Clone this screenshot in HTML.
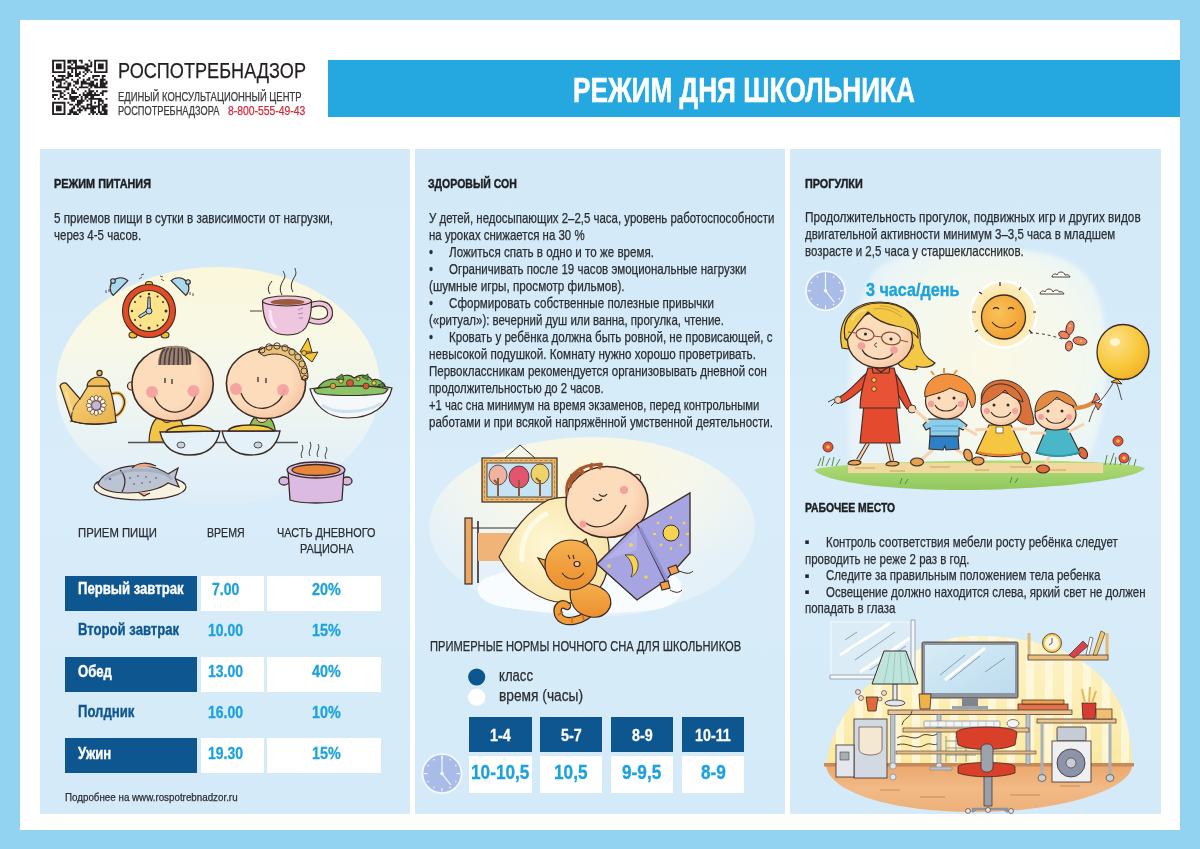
<!DOCTYPE html>
<html lang="ru"><head><meta charset="utf-8"><title>Режим дня школьника</title>
<style>
html,body{margin:0;padding:0}
body{width:1200px;height:849px;overflow:hidden;background:#93d3f2;position:relative;font-family:'Liberation Sans',Arial,sans-serif}
.abs{position:absolute}
.sheet{position:absolute;left:20px;top:20px;width:1160px;height:810px;background:#fff}
.bar{position:absolute;left:328px;top:60px;width:852px;height:57px;background:#25a7e0}
.panel{position:absolute;top:149px;height:665px;background:linear-gradient(180deg,#d3e9f8 0%,#d8ecf9 50%,#d5eaf8 100%)}
.t{position:absolute;white-space:nowrap;line-height:1;transform-origin:0 0;-webkit-text-stroke:0.25px currentColor}
.cell{position:absolute;height:35px}
.dk{background:#0e5690}
.wh{background:#fff}
svg{position:absolute;overflow:visible}
</style></head>
<body>
<div class="sheet"></div>
<div class="bar"></div>
<svg class="abs" style="left:0;top:0" width="1200" height="849" viewBox="0 0 1200 849"><defs></defs><path fill="#231f20" d="M52.10,59.70h13.37v1.91h-13.37zM67.38,59.70h9.55v1.91h-9.55zM78.84,59.70h3.82v1.91h-3.82zM88.40,59.70h1.91v1.91h-1.91zM94.13,59.70h13.37v1.91h-13.37zM52.10,61.61h1.91v1.91h-1.91zM63.56,61.61h1.91v1.91h-1.91zM67.38,61.61h3.82v1.91h-3.82zM73.11,61.61h3.82v1.91h-3.82zM80.76,61.61h1.91v1.91h-1.91zM90.31,61.61h1.91v1.91h-1.91zM94.13,61.61h1.91v1.91h-1.91zM105.59,61.61h1.91v1.91h-1.91zM52.10,63.52h1.91v1.91h-1.91zM55.92,63.52h5.73v1.91h-5.73zM63.56,63.52h1.91v1.91h-1.91zM71.20,63.52h1.91v1.91h-1.91zM75.02,63.52h1.91v1.91h-1.91zM84.58,63.52h3.82v1.91h-3.82zM90.31,63.52h1.91v1.91h-1.91zM94.13,63.52h1.91v1.91h-1.91zM97.95,63.52h5.73v1.91h-5.73zM105.59,63.52h1.91v1.91h-1.91zM52.10,65.43h1.91v1.91h-1.91zM55.92,65.43h5.73v1.91h-5.73zM63.56,65.43h1.91v1.91h-1.91zM67.38,65.43h3.82v1.91h-3.82zM75.02,65.43h9.55v1.91h-9.55zM86.49,65.43h5.73v1.91h-5.73zM94.13,65.43h1.91v1.91h-1.91zM97.95,65.43h5.73v1.91h-5.73zM105.59,65.43h1.91v1.91h-1.91zM52.10,67.34h1.91v1.91h-1.91zM55.92,67.34h5.73v1.91h-5.73zM63.56,67.34h1.91v1.91h-1.91zM67.38,67.34h21.01v1.91h-21.01zM94.13,67.34h1.91v1.91h-1.91zM97.95,67.34h5.73v1.91h-5.73zM105.59,67.34h1.91v1.91h-1.91zM52.10,69.25h1.91v1.91h-1.91zM63.56,69.25h1.91v1.91h-1.91zM71.20,69.25h1.91v1.91h-1.91zM75.02,69.25h1.91v1.91h-1.91zM84.58,69.25h5.73v1.91h-5.73zM94.13,69.25h1.91v1.91h-1.91zM105.59,69.25h1.91v1.91h-1.91zM52.10,71.16h13.37v1.91h-13.37zM67.38,71.16h1.91v1.91h-1.91zM71.20,71.16h1.91v1.91h-1.91zM75.02,71.16h1.91v1.91h-1.91zM78.84,71.16h1.91v1.91h-1.91zM82.67,71.16h1.91v1.91h-1.91zM86.49,71.16h1.91v1.91h-1.91zM90.31,71.16h1.91v1.91h-1.91zM94.13,71.16h13.37v1.91h-13.37zM67.38,73.07h3.82v1.91h-3.82zM75.02,73.07h5.73v1.91h-5.73zM84.58,73.07h1.91v1.91h-1.91zM52.10,74.98h1.91v1.91h-1.91zM57.83,74.98h7.64v1.91h-7.64zM67.38,74.98h5.73v1.91h-5.73zM75.02,74.98h3.82v1.91h-3.82zM82.67,74.98h1.91v1.91h-1.91zM92.22,74.98h7.64v1.91h-7.64zM101.77,74.98h3.82v1.91h-3.82zM54.01,76.89h1.91v1.91h-1.91zM61.65,76.89h1.91v1.91h-1.91zM65.47,76.89h3.82v1.91h-3.82zM78.84,76.89h1.91v1.91h-1.91zM88.40,76.89h1.91v1.91h-1.91zM92.22,76.89h1.91v1.91h-1.91zM101.77,76.89h1.91v1.91h-1.91zM54.01,78.80h11.46v1.91h-11.46zM71.20,78.80h1.91v1.91h-1.91zM76.93,78.80h1.91v1.91h-1.91zM82.67,78.80h1.91v1.91h-1.91zM86.49,78.80h3.82v1.91h-3.82zM94.13,78.80h3.82v1.91h-3.82zM99.86,78.80h5.73v1.91h-5.73zM52.10,80.71h1.91v1.91h-1.91zM55.92,80.71h5.73v1.91h-5.73zM65.47,80.71h1.91v1.91h-1.91zM73.11,80.71h5.73v1.91h-5.73zM80.76,80.71h5.73v1.91h-5.73zM90.31,80.71h3.82v1.91h-3.82zM99.86,80.71h3.82v1.91h-3.82zM105.59,80.71h1.91v1.91h-1.91zM52.10,82.62h1.91v1.91h-1.91zM59.74,82.62h1.91v1.91h-1.91zM63.56,82.62h1.91v1.91h-1.91zM67.38,82.62h3.82v1.91h-3.82zM75.02,82.62h3.82v1.91h-3.82zM80.76,82.62h13.37v1.91h-13.37zM96.04,82.62h1.91v1.91h-1.91zM99.86,82.62h7.64v1.91h-7.64zM52.10,84.53h1.91v1.91h-1.91zM57.83,84.53h3.82v1.91h-3.82zM67.38,84.53h3.82v1.91h-3.82zM73.11,84.53h1.91v1.91h-1.91zM80.76,84.53h1.91v1.91h-1.91zM88.40,84.53h9.55v1.91h-9.55zM99.86,84.53h5.73v1.91h-5.73zM55.92,86.44h13.37v1.91h-13.37zM75.02,86.44h1.91v1.91h-1.91zM78.84,86.44h9.55v1.91h-9.55zM90.31,86.44h1.91v1.91h-1.91zM94.13,86.44h13.37v1.91h-13.37zM52.10,88.36h1.91v1.91h-1.91zM65.47,88.36h3.82v1.91h-3.82zM71.20,88.36h1.91v1.91h-1.91zM76.93,88.36h1.91v1.91h-1.91zM88.40,88.36h1.91v1.91h-1.91zM52.10,90.27h9.55v1.91h-9.55zM63.56,90.27h1.91v1.91h-1.91zM71.20,90.27h3.82v1.91h-3.82zM84.58,90.27h1.91v1.91h-1.91zM88.40,90.27h5.73v1.91h-5.73zM96.04,90.27h1.91v1.91h-1.91zM101.77,90.27h5.73v1.91h-5.73zM59.74,92.18h3.82v1.91h-3.82zM67.38,92.18h1.91v1.91h-1.91zM71.20,92.18h5.73v1.91h-5.73zM82.67,92.18h1.91v1.91h-1.91zM86.49,92.18h5.73v1.91h-5.73zM94.13,92.18h1.91v1.91h-1.91zM99.86,92.18h3.82v1.91h-3.82zM52.10,94.09h5.73v1.91h-5.73zM59.74,94.09h1.91v1.91h-1.91zM63.56,94.09h1.91v1.91h-1.91zM69.29,94.09h1.91v1.91h-1.91zM78.84,94.09h1.91v1.91h-1.91zM82.67,94.09h17.19v1.91h-17.19zM101.77,94.09h1.91v1.91h-1.91zM52.10,96.00h1.91v1.91h-1.91zM59.74,96.00h3.82v1.91h-3.82zM69.29,96.00h9.55v1.91h-9.55zM80.76,96.00h1.91v1.91h-1.91zM84.58,96.00h3.82v1.91h-3.82zM90.31,96.00h3.82v1.91h-3.82zM54.01,97.91h1.91v1.91h-1.91zM57.83,97.91h1.91v1.91h-1.91zM63.56,97.91h3.82v1.91h-3.82zM69.29,97.91h7.64v1.91h-7.64zM80.76,97.91h1.91v1.91h-1.91zM84.58,97.91h1.91v1.91h-1.91zM88.40,97.91h13.37v1.91h-13.37zM105.59,97.91h1.91v1.91h-1.91zM71.20,99.82h3.82v1.91h-3.82zM76.93,99.82h7.64v1.91h-7.64zM86.49,99.82h1.91v1.91h-1.91zM90.31,99.82h1.91v1.91h-1.91zM97.95,99.82h5.73v1.91h-5.73zM52.10,101.73h13.37v1.91h-13.37zM67.38,101.73h1.91v1.91h-1.91zM76.93,101.73h5.73v1.91h-5.73zM90.31,101.73h1.91v1.91h-1.91zM94.13,101.73h1.91v1.91h-1.91zM97.95,101.73h1.91v1.91h-1.91zM101.77,101.73h1.91v1.91h-1.91zM52.10,103.64h1.91v1.91h-1.91zM63.56,103.64h1.91v1.91h-1.91zM69.29,103.64h3.82v1.91h-3.82zM75.02,103.64h5.73v1.91h-5.73zM86.49,103.64h5.73v1.91h-5.73zM97.95,103.64h3.82v1.91h-3.82zM103.68,103.64h3.82v1.91h-3.82zM52.10,105.55h1.91v1.91h-1.91zM55.92,105.55h5.73v1.91h-5.73zM63.56,105.55h1.91v1.91h-1.91zM73.11,105.55h1.91v1.91h-1.91zM76.93,105.55h1.91v1.91h-1.91zM80.76,105.55h3.82v1.91h-3.82zM86.49,105.55h1.91v1.91h-1.91zM90.31,105.55h9.55v1.91h-9.55zM101.77,105.55h5.73v1.91h-5.73zM52.10,107.46h1.91v1.91h-1.91zM55.92,107.46h5.73v1.91h-5.73zM63.56,107.46h1.91v1.91h-1.91zM71.20,107.46h3.82v1.91h-3.82zM78.84,107.46h1.91v1.91h-1.91zM82.67,107.46h13.37v1.91h-13.37zM97.95,107.46h1.91v1.91h-1.91zM101.77,107.46h3.82v1.91h-3.82zM52.10,109.37h1.91v1.91h-1.91zM55.92,109.37h5.73v1.91h-5.73zM63.56,109.37h1.91v1.91h-1.91zM69.29,109.37h3.82v1.91h-3.82zM76.93,109.37h5.73v1.91h-5.73zM84.58,109.37h1.91v1.91h-1.91zM90.31,109.37h3.82v1.91h-3.82zM97.95,109.37h1.91v1.91h-1.91zM101.77,109.37h5.73v1.91h-5.73zM52.10,111.28h1.91v1.91h-1.91zM63.56,111.28h1.91v1.91h-1.91zM69.29,111.28h7.64v1.91h-7.64zM78.84,111.28h1.91v1.91h-1.91zM90.31,111.28h5.73v1.91h-5.73zM97.95,111.28h3.82v1.91h-3.82zM103.68,111.28h3.82v1.91h-3.82zM52.10,113.19h13.37v1.91h-13.37zM67.38,113.19h3.82v1.91h-3.82zM73.11,113.19h5.73v1.91h-5.73zM88.40,113.19h1.91v1.91h-1.91zM92.22,113.19h1.91v1.91h-1.91zM96.04,113.19h1.91v1.91h-1.91zM99.86,113.19h7.64v1.91h-7.64z"/></svg>
<div class="panel" style="left:40px;width:370px"></div>
<div class="panel" style="left:415px;width:370px"></div>
<div class="panel" style="left:790px;width:371px"></div>
<svg class="abs" style="left:0;top:0" width="1200" height="849" viewBox="0 0 1200 849"><defs>
<linearGradient id="el1" x1="0" y1="267" x2="0" y2="505" gradientUnits="userSpaceOnUse">
 <stop offset="0" stop-color="#fbf7da"/><stop offset="0.3" stop-color="#f8f8e6"/><stop offset="0.6" stop-color="#eef5f2"/><stop offset="0.85" stop-color="#e3f0f8"/><stop offset="1" stop-color="#dcedf9"/>
</linearGradient>
<radialGradient id="skin" cx="0.4" cy="0.4" r="0.7"><stop offset="0.6" stop-color="#fcdcbb"/><stop offset="1" stop-color="#f5c09e"/></radialGradient>
<linearGradient id="gold" x1="0" y1="0" x2="1" y2="1"><stop offset="0" stop-color="#f9d882"/><stop offset="1" stop-color="#e9b14a"/></linearGradient>
</defs>
<ellipse cx="218" cy="386" rx="162" ry="119" fill="url(#el1)"/>
<!-- clock -->
<g stroke="#3b2a24" stroke-width="1.1">
 <path d="M112,294 a10,10 0 0 1 17,-12 z" fill="#a9d9ef" transform="rotate(-10 121 288)"/>
 <path d="M170,282 a10,10 0 0 1 17,12 z" fill="#a9d9ef" transform="rotate(10 178 288)"/>
 <circle cx="113" cy="281" r="2.3" fill="#a9d9ef"/><circle cx="188" cy="282" r="2.3" fill="#a9d9ef"/>
 <ellipse cx="133" cy="335" rx="4" ry="3" fill="#f2c02e"/><ellipse cx="165" cy="335" rx="4" ry="3" fill="#f2c02e"/>
 <ellipse cx="149" cy="284" rx="3.5" ry="2.5" fill="#f2c02e"/>
 <circle cx="149" cy="311" r="26.5" fill="#e34a26"/>
 <circle cx="149" cy="311" r="20.5" fill="#fbe48c"/>
</g>
<g fill="#3b2a24">
 <circle cx="149" cy="294" r="1.2"/><circle cx="149" cy="328" r="1.5"/><circle cx="132" cy="311" r="1.2"/><circle cx="166" cy="311" r="1.5"/>
 <circle cx="140.5" cy="296.5" r="1"/><circle cx="157.5" cy="296.5" r="1"/><circle cx="135" cy="302" r="1"/><circle cx="163" cy="302" r="1"/>
 <circle cx="135" cy="320" r="1"/><circle cx="163" cy="320" r="1"/><circle cx="140.5" cy="325.5" r="1"/><circle cx="157.5" cy="325.5" r="1"/>
</g>
<g stroke="#3b2a24" stroke-width="1" fill="#a9d9ef">
 <path d="M148,297 l2,0 l0.5,13 l-3,0 z"/>
 <path d="M148,310 l2,2 l-10,6 l-1.5,-2 z"/>
 <circle cx="149" cy="311" r="3"/>
</g>
<path d="M139,279 l3,-2 M141,275 l3,-1 M160,276 l3,1 M161,279 l3,2 M106,290 l0,3 M109,289 l0,3 M190,292 l0,3 M193,293 l0,3" stroke="#3b2a24" stroke-width="0.8"/>
<!-- cup -->
<g stroke="#3b2a24" stroke-width="1.2">
 <path d="M309,306 c8,-4 20,-4 21,6 c1,9 -10,12 -20,8" fill="none" stroke="#3b2a24" stroke-width="6"/>
 <path d="M309,306 c8,-4 20,-4 21,6 c1,9 -10,12 -20,8" fill="none" stroke="#eec3de" stroke-width="3.8"/>
 <path d="M262.5,301 l49,0 c0,10 -1,20 -6,27 c-4,5 -10,7 -18,7 c-8,0 -14,-2 -18,-7 c-5,-7 -7,-17 -7,-27 z" fill="#efc6e0"/>
 <ellipse cx="287" cy="301" rx="24.5" ry="5" fill="#efc6e0"/>
 <ellipse cx="287.5" cy="302" rx="17" ry="3" fill="#9a5c3e" stroke="none"/>
</g>
<path d="M270,310 c0,8 2,14 6,18" stroke="#fbe8f4" stroke-width="3" fill="none"/>
<path d="M298,310 l5,-2 M298,314 l5,-1 M299,318 l4,0" stroke="#b384b0" stroke-width="1"/>
<path d="M270,294 c-4,-6 0,-10 2,-13 M282,295 c-4,-7 0,-12 2,-16 c2,-3 0,-6 -1,-8 M293,292 c-4,-7 0,-12 2,-16 c2,-3 0,-6 0,-8" stroke="#3b2a24" stroke-width="1" fill="none"/>
<path d="M250,311 l12,0" stroke="#3b2a24" stroke-width="0.9"/>
<!-- teapot -->
<g stroke="#3b2a24" stroke-width="1.2">
 <path d="M112,394 c10,-4 15,6 11,14 c-2,5 -5,7 -8,8" fill="none" stroke="#eab550" stroke-width="3.5"/>
 <path d="M112,394 c10,-4 15,6 11,14 c-2,5 -5,7 -8,8" fill="none"/>
 <path d="M60,386 c1,-3 5,-4 7,-2 l13,15 l8,-13 l21,0 c3,8 6,24 7,36 c-14,3 -34,3 -44,-1 c-4,-10 -8,-24 -12,-35 z" fill="url(#gold)"/>
 <path d="M87,386 c2,-12 22,-12 23,0 z" fill="#efbd55"/>
 <circle cx="99.5" cy="373" r="2.6" fill="#efbd55"/>
 <path d="M72,421 c-2,-10 4,-18 8,-22" fill="none" stroke-width="1"/>
 <path d="M70,421 c16,4 34,4 47,1" fill="none"/>
</g>
<path d="M66,392 l6,20" stroke="#fbe6b0" stroke-width="2" opacity="0.8"/>
<g fill="#fff3e0" stroke="#3b2a24" stroke-width="0.6"><ellipse cx="103.70" cy="405.40" rx="2" ry="2.6" transform="rotate(90 103.70 405.40)"/><ellipse cx="102.70" cy="409.15" rx="2" ry="2.6" transform="rotate(120 102.70 409.15)"/><ellipse cx="99.95" cy="411.90" rx="2" ry="2.6" transform="rotate(150 99.95 411.90)"/><ellipse cx="96.20" cy="412.90" rx="2" ry="2.6" transform="rotate(180 96.20 412.90)"/><ellipse cx="92.45" cy="411.90" rx="2" ry="2.6" transform="rotate(210 92.45 411.90)"/><ellipse cx="89.70" cy="409.15" rx="2" ry="2.6" transform="rotate(240 89.70 409.15)"/><ellipse cx="88.70" cy="405.40" rx="2" ry="2.6" transform="rotate(270 88.70 405.40)"/><ellipse cx="89.70" cy="401.65" rx="2" ry="2.6" transform="rotate(300 89.70 401.65)"/><ellipse cx="92.45" cy="398.90" rx="2" ry="2.6" transform="rotate(330 92.45 398.90)"/><ellipse cx="96.20" cy="397.90" rx="2" ry="2.6" transform="rotate(360 96.20 397.90)"/><ellipse cx="99.95" cy="398.90" rx="2" ry="2.6" transform="rotate(390 99.95 398.90)"/><ellipse cx="102.70" cy="401.65" rx="2" ry="2.6" transform="rotate(420 102.70 401.65)"/></g>
<circle cx="96.2" cy="405.4" r="4.6" fill="#c4b4dc" stroke="#3b2a24" stroke-width="0.7"/>
<!-- bodies -->
<path d="M149,442 c0,-10 3,-20 8,-24 l22,0 c4,4 6,12 6,24 z" fill="#f1c44a" stroke="#3b2a24" stroke-width="1.2"/>
<path d="M161,418 c2,6 10,6 12,0" fill="none" stroke="#3b2a24" stroke-width="1"/>
<path d="M248,440 c0,-10 2,-18 6,-22 l16,0 c4,4 6,12 6,22 z" fill="#8fbf58" stroke="#3b2a24" stroke-width="1.2"/>
<path d="M256,418 c2,6 10,6 12,0" fill="#f8d6b4" stroke="#3b2a24" stroke-width="1"/>
<path d="M128,442.5 l170,0" stroke="#55504c" stroke-width="1.3"/>
<!-- heads -->
<ellipse cx="131.5" cy="386" rx="4" ry="4" fill="#fcdcbb" stroke="#3b2a24" stroke-width="1.2"/>
<ellipse cx="172.6" cy="384" rx="40.7" ry="37" fill="url(#skin)" stroke="#3b2a24" stroke-width="1.6"/>
<ellipse cx="266" cy="383.5" rx="39.6" ry="35" fill="url(#skin)" stroke="#3b2a24" stroke-width="1.6"/>
<!-- boy hair -->
<path d="M158,365 c0,-8 2,-14 6,-17 c6,-3 18,-3 24,0 c3,3 4,9 3,17 z" fill="#9a8478"/>
<path d="M160,365 c0,-8 2,-14 5,-16 M164.5,365 c0,-8 1,-14 4,-17 M169,365 c0,-8 1,-14 3,-17 M173.5,365 l1,-17 M178,365 l0.5,-17 M182.5,365 c0,-7 0,-13 -1,-17 M187,365 c0,-7 0,-13 -2,-16 M190,364 c0,-6 -1,-12 -3,-15" stroke="#4f3d35" stroke-width="1.6" fill="none"/>
<!-- girl hair -->
<path d="M258,352 c6,-6 14,-8 22,-6 c10,0 18,6 22,12 c4,6 6,12 6,20 l-6,2 c-2,-8 -4,-14 -8,-18 c-8,-8 -20,-10 -30,-6 z" fill="#e9c27a" stroke="#3b2a24" stroke-width="1"/>
<g fill="none" stroke="#3b2a24" stroke-width="0.9">
 <circle cx="262" cy="350" r="3"/><circle cx="269" cy="347" r="3.2"/><circle cx="277" cy="346" r="3.2"/><circle cx="285" cy="348" r="3.2"/>
 <circle cx="292" cy="352" r="3.2"/><circle cx="298" cy="357" r="3.2"/><circle cx="302" cy="364" r="3.2"/><circle cx="304" cy="371" r="3"/><circle cx="305" cy="378" r="2.6"/>
</g>
<path d="M300,352 l8,-14 l4,14 z M302,354 l16,-2 l-6,10 z" fill="#f6c534" stroke="#3b2a24" stroke-width="1"/>
<circle cx="304" cy="353" r="2.5" fill="#f6c534" stroke="#3b2a24" stroke-width="0.8"/>
<!-- faces -->
<g stroke="#3b2a24" stroke-width="1.3" fill="none">
 <path d="M165,378 l0,5 M172,379 l0,5"/>
 <path d="M154,396 c8,22 36,22 42,-3"/>
 <path d="M258,377 l0,5 M266,378 l0,5"/>
 <path d="M241,393 c8,22 38,20 44,-4"/>
</g>
<g fill="#f4a09e" opacity="0.9"><circle cx="152" cy="392" r="6"/><circle cx="193.5" cy="391" r="6"/><circle cx="236" cy="389" r="6"/><circle cx="283" cy="390" r="6"/></g>
<!-- salad bowl -->
<g stroke="#3b2a24" stroke-width="1.2">
 <path d="M318,388 c4,-8 14,-10 20,-8 c4,-6 12,-6 16,-2 c6,-4 14,-4 18,2 c6,-2 12,2 14,8 z" fill="#7dbb5a"/>
 <path d="M310,389 c12,-3 70,-4 82,-1 c-4,18 -20,30 -44,30 c-22,0 -34,-14 -38,-29 z" fill="#f4f8fb"/>
 <path d="M314,389 c20,-4 60,-4 74,0 c-2,4 -6,5 -8,5 c-18,2 -44,2 -60,0 c-3,0 -6,-2 -6,-5 z" fill="#8cc46a"/>
</g>
<path d="M322,405 c10,8 40,10 60,-2" stroke="#cfe2ee" stroke-width="3" fill="none"/>
<g stroke="#3b2a24" stroke-width="0.7">
 <circle cx="350" cy="383" r="3.5" fill="#d9553a"/><circle cx="366" cy="386" r="3" fill="#d9553a"/><circle cx="333" cy="386" r="2.8" fill="#e0a040"/>
 <circle cx="341" cy="381" r="2.2" fill="#f0d04a"/><circle cx="374" cy="383" r="2.2" fill="#f0d04a"/><circle cx="358" cy="379" r="2" fill="#f0d04a"/>
 <path d="M336,378 l6,-4 l2,6 z M362,377 l6,-3 l0,6 z M378,385 l6,-2 l-2,5 z" fill="#4f9a40"/>
</g>
<!-- porridge bowls -->
<g stroke="#3b2a24" stroke-width="1.3">
 <path d="M160,432 l60,-1 c-3,14 -12,24 -30,24 c-18,0 -27,-10 -30,-23 z" fill="#e4f1f8"/>
 <path d="M166,432 c4,-8 40,-9 48,-1 z" fill="#f3cd4a"/>
 <path d="M222,431 l58,0 c-3,14 -12,24 -29,24 c-17,0 -26,-10 -29,-24 z" fill="#e4f1f8"/>
 <path d="M228,431 c4,-8 40,-8 46,0 z" fill="#f3cd4a"/>
</g>
<ellipse cx="181" cy="445" rx="4" ry="3" fill="#c8d4de" stroke="#3b2a24" stroke-width="0.8"/>
<ellipse cx="258" cy="445" rx="4" ry="3" fill="#c8d4de" stroke="#3b2a24" stroke-width="0.8"/>
<!-- fish plate -->
<g stroke="#3b2a24" stroke-width="1.2">
 <ellipse cx="140" cy="487" rx="46" ry="13" fill="#f8f2e2"/>
 <path d="M98,484 c4,-12 26,-20 48,-18 c10,1 16,4 22,8 l10,-6 l-3,10 l4,9 l-11,-4 c-8,6 -24,10 -40,10 c-14,0 -26,-3 -30,-9 z" fill="#bcc3d3"/>
 <path d="M120,470 c6,6 6,14 2,22" fill="none"/>
 <path d="M132,468 c6,-6 16,-6 24,-2" fill="#f0a884"/>
 <path d="M138,492 l6,4 l6,-3" fill="#f0a884"/>
</g>
<path d="M104,480 c10,-8 30,-12 50,-9 c8,1 14,4 18,8" stroke="#9aa3b8" stroke-width="3" fill="none" opacity="0.6"/>
<g fill="#6d7488"><circle cx="130" cy="478" r="0.9"/><circle cx="138" cy="476" r="0.9"/><circle cx="146" cy="477" r="0.9"/><circle cx="134" cy="484" r="0.9"/><circle cx="142" cy="483" r="0.9"/><circle cx="150" cy="482" r="0.9"/><circle cx="156" cy="478" r="0.9"/><circle cx="110" cy="479" r="1.3"/></g>
<!-- pot -->
<g stroke="#3b2a24" stroke-width="1.3">
 <ellipse cx="284" cy="481" rx="5" ry="4" fill="#d9b6df"/>
 <ellipse cx="347" cy="481" rx="5" ry="4" fill="#d9b6df"/>
 <path d="M288,470 l56,0 l-2,30 c-10,4 -42,4 -52,0 z" fill="#dcbbe2"/>
 <ellipse cx="316" cy="470" rx="29" ry="8" fill="#d9b6df"/>
 <ellipse cx="316" cy="470" rx="24" ry="5.5" fill="#e7853a"/>
</g>
<path d="M302,458 c-3,-5 3,-8 0,-13 M310,456 c-3,-5 3,-8 0,-14 M318,457 c-3,-5 3,-8 0,-13 M326,459 c-3,-5 3,-8 0,-12" stroke="#3b2a24" stroke-width="0.9" fill="none"/>
</svg>
<svg class="abs" style="left:0;top:0" width="1200" height="849" viewBox="0 0 1200 849"><defs>
<radialGradient id="el2" cx="592" cy="470" r="200" gradientUnits="userSpaceOnUse" gradientTransform="translate(592 470) scale(1 0.6) translate(-592 -470)">
 <stop offset="0" stop-color="#fbf6dc"/><stop offset="0.5" stop-color="#f6f7ec"/><stop offset="1" stop-color="#e4f1f9"/>
</radialGradient>
<radialGradient id="pil" cx="0.45" cy="0.45" r="0.6"><stop offset="0" stop-color="#fff7d6"/><stop offset="1" stop-color="#f8e4a6"/></radialGradient>
<linearGradient id="cat" x1="0" y1="0" x2="0" y2="1"><stop offset="0" stop-color="#f6b04e"/><stop offset="1" stop-color="#eb8f2e"/></linearGradient>
</defs>
<ellipse cx="592" cy="527" rx="163" ry="90" fill="url(#el2)"/>
<!-- frame -->
<path d="M505,458 l15,-13 l15,13" fill="none" stroke="#3b2a24" stroke-width="1"/>
<rect x="482" y="458" width="75" height="44" fill="#eab96a" stroke="#3b2a24" stroke-width="1.2"/>
<rect x="487" y="463" width="65" height="34" fill="#c4e3f5" stroke="#3b2a24" stroke-width="0.8"/>
<path d="M484.5,460.5 l70,0 l0,39 l-70,0 z" fill="none" stroke="#a36a2e" stroke-width="0.7" stroke-dasharray="3 2"/>
<g stroke="#3b2a24" stroke-width="0.8">
 <ellipse cx="498" cy="475" rx="9" ry="10" fill="#f0b3a0"/>
 <ellipse cx="519" cy="477" rx="10" ry="11" fill="#e4546e"/>
 <ellipse cx="540" cy="474" rx="9" ry="10" fill="#eed26a"/>
</g>
<path d="M498,496 l0,-18 M494,480 l4,4 M519,496 l0,-16 M540,496 l0,-16 M536,478 l4,4" stroke="#8a5a3a" stroke-width="2"/>
<!-- bed -->
<g stroke="#3b2a24" stroke-width="1.2">
 <rect x="465" y="518" width="7" height="66" fill="#eaa862"/>
 <path d="M478,521 l0,62" stroke-width="1.6"/>
 <path d="M472,528 l60,0"/>
 <path d="M478,533 l40,0 l0,28 l-40,0 z" fill="#f0b478" stroke="none"/>
</g>
<!-- blanket -->
<path d="M482,580 c30,-16 130,-26 190,-6 c20,12 10,32 -20,36 c-50,6 -130,4 -160,-6 c-15,-6 -18,-14 -10,-24 z" fill="#f9fcfe" stroke="none"/>
<!-- pillow / big body -->
<path d="M499,557 C510,535 525,512 548,500 C585,488 612,520 609,560 C606,590 590,604 565,603 C540,602 515,585 499,557 Z" fill="url(#pil)" stroke="#3b2a24" stroke-width="1.2"/>
<path d="M522,560 c-2,-20 8,-38 24,-46" stroke="#fffbea" stroke-width="5" fill="none" stroke-linecap="round" opacity="0.9"/>

<!-- boy head -->
<circle cx="637" cy="478" r="3.8" fill="#fcdcbb" stroke="#3b2a24" stroke-width="1"/>
<ellipse cx="607" cy="502" rx="41" ry="35.5" fill="url(#skin)" stroke="#3b2a24" stroke-width="1.5"/>
<path d="M567,495 c-2,-12 4,-20 10,-24 c8,-6 16,-6 24,-7 M570,488 c0,-8 6,-14 12,-16 M575,480 l-4,-6 M583,474 l-2,-7 M591,470 l1,-7 M599,469 l3,-6" stroke="#a9582e" stroke-width="3" fill="none"/>
<g stroke="#3b2a24" stroke-width="1.3" fill="none">
 <path d="M593,498 c2,3 6,4 9,1 M599,494 c2,3 6,3 8,0"/>
 <path d="M586,523 c10,8 30,4 40,-18"/>
</g>
<g fill="#f4a09e"><circle cx="624" cy="490" r="4"/><circle cx="583" cy="524" r="3.5"/></g>
<!-- cat -->
<g transform="translate(6,0)"><g stroke="#3b2a24" stroke-width="1.2">
 <path d="M588,608 C578,622 556,626 552,614 C550,606 556,602 561,606" fill="none" stroke="#3b2a24" stroke-width="8.5" stroke-linecap="round"/>
 <path d="M588,608 C578,622 556,626 552,614 C550,606 556,602 561,606" fill="none" stroke="#f09a38" stroke-width="6" stroke-linecap="round"/>
 <path d="M576,614 l2,6 M566,617 l0,6 M557,612 l-5,3" stroke="#c86a1e" stroke-width="1.5"/>
 <path d="M565,585 c10,-4 30,-2 38,10 c6,12 -4,24 -18,22 c-14,-2 -24,-12 -20,-32 z" fill="url(#cat)"/>
 <path d="M546,562 l-14,-4 l10,16 z" fill="#f2a24a"/>
 <path d="M570,548 l10,-9 l4,12 z" fill="#f2a24a"/>
 <ellipse cx="565" cy="565" rx="26" ry="25" fill="url(#cat)"/>
 <ellipse cx="571" cy="564" rx="3" ry="2.5" fill="#f5cc9a"/>
</g>
<g stroke="#3b2a24" stroke-width="1.1" fill="none">
 <path d="M562,555 l2,4 M567,555 l1,4 M556,573 c6,8 16,8 22,0"/>
</g>
</g>
<!-- book -->
<path d="M596.5,564 l40,-39 l1,75 z" fill="#fdfdfd" stroke="#3b2a24" stroke-width="1"/>
<path d="M597,564 l40,-40 l53,-31 l0,60 l-25,28 l-28,19 z" fill="#a7a5e1" stroke="#3b2a24" stroke-width="1.3"/>
<path d="M637,524 l28,57" stroke="#3b2a24" stroke-width="1.2"/>
<path d="M640,528 l28,54" stroke="#8f8dd2" stroke-width="3"/>
<path d="M605,560 l32,-30 l0,20 z" fill="#b8b6ea" opacity="0.7"/>
<circle cx="671" cy="533" r="8" fill="#f6d452" stroke="#3b2a24" stroke-width="1"/>
<g stroke="#f6d452" stroke-width="1.8"><path d="M671,519 l0,-3 M683,524 l2,-2 M686,534 l3,0 M659,524 l-2,-2 M656,534 l-3,0 M671,547 l0,3 M662,544 l-2,2 M680,544 l2,2"/></g>
<path d="M625,555 c6,4 10,14 6,22 c8,-4 10,-16 2,-22 z" fill="#f6d452" stroke="#3b2a24" stroke-width="0.8"/>
<g fill="#f6d452"><circle cx="631" cy="545" r="2"/><circle cx="609" cy="566" r="1.8"/><circle cx="646" cy="577" r="1.8"/></g>
<!-- feet -->
<g stroke="#3b2a24" stroke-width="1.1" fill="#f2a04a">
 <path d="M668,568 l8,-3 l3,7 l-8,3 z"/>
 <path d="M660,583 l8,-2 l2,7 l-8,2 z"/>
</g>
<path d="M679,571 c6,2 10,4 14,0 M670,590 c4,2 8,4 12,0" stroke="#3b2a24" stroke-width="1" fill="none"/>
</svg>
<svg class="abs" style="left:0;top:0" width="1200" height="849" viewBox="0 0 1200 849"><defs>
<filter id="soft3" x="-10%" y="-10%" width="120%" height="120%"><feGaussianBlur stdDeviation="2"/></filter>
<radialGradient id="glow3" cx="990" cy="360" r="140" gradientUnits="userSpaceOnUse">
 <stop offset="0" stop-color="#fbf8e4"/><stop offset="0.7" stop-color="#f3f8f0"/><stop offset="1" stop-color="#e8f3f8"/>
</radialGradient>
<radialGradient id="sun" cx="0.4" cy="0.4" r="0.7"><stop offset="0" stop-color="#f9c35a"/><stop offset="1" stop-color="#f09a2a"/></radialGradient>
<radialGradient id="sunglow" cx="0.5" cy="0.5" r="0.5"><stop offset="0.6" stop-color="#fbe6a4"/><stop offset="1" stop-color="#fcf0c8"/></radialGradient>
<radialGradient id="bal" cx="0.35" cy="0.3" r="0.8"><stop offset="0" stop-color="#fde08a"/><stop offset="0.6" stop-color="#f8c83a"/><stop offset="1" stop-color="#efae26"/></radialGradient>
<linearGradient id="grass" x1="0" y1="460" x2="0" y2="490" gradientUnits="userSpaceOnUse"><stop offset="0" stop-color="#b4dc7a"/><stop offset="1" stop-color="#90c85e"/></linearGradient>
</defs>
<path d="M850,472 C846,400 846,300 880,266 C905,250 940,248 975,250 C1090,244 1106,280 1106,360 C1108,420 1090,472 1070,472 Z" fill="url(#glow3)" filter="url(#soft3)"/>
<circle cx="825.5" cy="290.8" r="19.5" fill="#a9bbe7" stroke="#f4f8ff" stroke-width="1.8"/><g stroke="#f4f8ff" stroke-width="1.1" fill="none"><path d="M825.50,272.80 L825.50,276.30"/><path d="M843.50,290.80 L840.00,290.80"/><path d="M825.50,308.80 L825.50,305.30"/><path d="M807.50,290.80 L811.00,290.80"/></g><g fill="#f4f8ff"><circle cx="833.50" cy="276.94" r="0.8"/><circle cx="839.36" cy="282.80" r="0.8"/><circle cx="839.36" cy="298.80" r="0.8"/><circle cx="833.50" cy="304.66" r="0.8"/><circle cx="817.50" cy="304.66" r="0.8"/><circle cx="811.64" cy="298.80" r="0.8"/><circle cx="811.64" cy="282.80" r="0.8"/><circle cx="817.50" cy="276.94" r="0.8"/></g><path d="M825.5,290.8 L834.1,301.8 M825.5,290.8 L825.5,273.8" stroke="#f4f8ff" stroke-width="1.2" stroke-linecap="round"/><circle cx="825.5" cy="290.8" r="1.8" fill="#f4f8ff"/>
<!-- sun -->
<circle cx="1003.5" cy="314.5" r="33" fill="url(#sunglow)" stroke="#ffffff" stroke-width="2.5"/>
<circle cx="1003.5" cy="317" r="22" fill="url(#sun)" stroke="#3b2a24" stroke-width="1.3"/>
<path d="M992,322 c6,8 18,8 24,0 M993,309 c2,-2 4,-2 6,0 M1008,309 c2,-2 4,-2 6,0" stroke="#3b2a24" stroke-width="1.2" fill="none"/>
<path d="M1000,286 l0,-4 M1019,290 l2,-3 M982,294 l-3,-2 M976,312 l-4,0 M978,330 l-3,2 M1029,330 l3,3 M1033,312 l3,0" stroke="#3b2a24" stroke-width="1.2"/>
<!-- clouds -->
<path d="M1052,277 c0,-3 4,-4 5,-2 c1,-4 7,-4 8,0 c3,-1 5,1 5,2 z M1040,294 c0,-3 4,-4 5,-2 c1,-4 7,-4 8,0 c2,-3 6,-2 6,0 c3,-1 5,1 5,2 z" fill="#ffffff" stroke="#3b2a24" stroke-width="0.9"/>
<!-- butterfly -->
<path d="M1030,333 c10,0 20,2 32,6" stroke="#3b2a24" stroke-width="0.9" stroke-dasharray="3 3" fill="none"/>
<g stroke="#3b2a24" stroke-width="0.9" fill="#ee7f5f">
 <ellipse cx="1070" cy="328" rx="3.8" ry="7" transform="rotate(15 1070 328)"/>
 <ellipse cx="1080" cy="341" rx="7" ry="4" transform="rotate(10 1080 341)"/>
 <ellipse cx="1064" cy="335" rx="5.5" ry="3.5" transform="rotate(20 1064 335)"/>
 <ellipse cx="1069" cy="346" rx="3.5" ry="5" transform="rotate(10 1069 346)"/>
</g>
<g fill="#f6c84a"><circle cx="1070" cy="326" r="1.3"/><circle cx="1081" cy="341" r="1.3"/><circle cx="1069" cy="347" r="1.1"/></g>
<!-- balloon -->
<path d="M1115,380 c-6,10 -10,16 -16,22 c-6,6 -8,14 -10,20 M1116,382 c4,8 4,14 6,18" stroke="#3b2a24" stroke-width="0.9" fill="none"/>
<ellipse cx="1123" cy="352" rx="26" ry="27.5" fill="url(#bal)" stroke="#3b2a24" stroke-width="1.3"/>
<ellipse cx="1115" cy="342" rx="5" ry="4" fill="#fff6d0"/>
<path d="M1111,382 l6,-3 l5,5 z" fill="#f2b830" stroke="#3b2a24" stroke-width="1"/>
<!-- grass -->
<path d="M814,470 c20,-10 300,-14 331,-2 c-10,14 -120,22 -180,22 c-80,0 -140,-8 -151,-20 z" fill="url(#grass)"/>
<path d="M848,463 l255,0 l0,10 l-255,0 z" fill="#f1d89e"/>
<path d="M855,468 l20,0 M890,471 l15,0 M930,467 l20,0 M975,470 l14,0 M1010,467 l22,0 M1050,470 l16,0" stroke="#c8a060" stroke-width="1"/>
<g stroke="#5b8a3a" stroke-width="1" fill="none">
<path d="M818,466 l3,-8 M822,466 l2,-10 M826,466 l4,-8 M832,466 l2,-9 M836,466 l4,-7 M1105,465 l2,-10 M1110,465 l4,-12 M1115,465 l1,-8 M1120,465 l4,-10 M1128,465 l3,-8 M1134,466 l2,-7 M900,484 l2,-6 M905,484 l3,-5 M1010,483 l2,-6 M1015,483 l3,-5"/>
</g>
<g stroke="#3b2a24" stroke-width="0.8" fill="#e8543a">
 <circle cx="828" cy="447" r="5"/><circle cx="1118" cy="441" r="5"/><circle cx="1124" cy="458" r="5"/>
</g>
<g fill="#f6c84a"><circle cx="828" cy="447" r="1.8"/><circle cx="1118" cy="441" r="1.8"/><circle cx="1124" cy="458" r="1.8"/></g>
<!-- woman -->
<g stroke="#3b2a24" stroke-width="1.1">
 <path d="M868,443 l-10,17 M888,443 l4,18" stroke="#3b2a24" stroke-width="4.2" fill="none"/>
 <path d="M868,443 l-10,17 M888,443 l4,18" stroke="#f8d2b0" stroke-width="2.4" fill="none"/>
 <path d="M848,464 c0,-4 10,-5 13,-2 c0,3 -8,4 -13,2 z" fill="#e8a456"/>
 <path d="M886,465 c0,-4 10,-5 13,-2 c0,3 -8,4 -13,2 z" fill="#e8a456"/>
 <path d="M864,404 l32,0 l4,39 l-40,0 z" fill="#e34a2e"/>
 <path d="M868,372 c-10,8 -18,20 -30,26 l3,5 c12,-4 20,-14 30,-22 z" fill="#e64b30"/>
 <path d="M894,372 c8,8 12,22 18,34 l-5,3 c-6,-8 -12,-20 -16,-28 z" fill="#e64b30"/>
 <path d="M868,368 l26,0 c4,12 4,26 6,40 l-40,0 c0,-14 4,-28 8,-40 z" fill="#e85235"/>
 <path d="M872,366 l9,6 l9,-6 l-1,7 l-16,0 z" fill="#e85235"/>
</g>
<g fill="#f6c84a" stroke="#3b2a24" stroke-width="0.7"><circle cx="874" cy="380" r="2.3"/><circle cx="874" cy="389" r="2.3"/></g>
<path d="M834,399 l-6,3 M836,401 l-5,5" stroke="#3b2a24" stroke-width="0.9"/>
<circle cx="838" cy="400" r="3.5" fill="#f8d2b0" stroke="#3b2a24" stroke-width="0.9"/>
<circle cx="912" cy="409" r="4" fill="#f8d2b0" stroke="#3b2a24" stroke-width="0.9"/>
<path d="M842,348 C836,320 852,302 880,302 C906,302 922,318 920,342 C921,352 926,358 935,363 C930,368 922,368 916,366 C920,370 914,371 904,368 C898,366 896,362 896,356 Z" fill="#f3c844" stroke="#3b2a24" stroke-width="1.1"/>
<circle cx="848" cy="337" r="3.5" fill="#f8d2b0" stroke="#3b2a24" stroke-width="0.9"/>
<circle cx="910" cy="346" r="3.5" fill="#f8d2b0" stroke="#3b2a24" stroke-width="0.9"/>
<ellipse cx="880" cy="340" rx="32.5" ry="28" fill="url(#skin)" stroke="#3b2a24" stroke-width="1.3"/>
<path d="M845,338 C841,318 856,303 880,303 C904,303 919,316 918,338 C913,331 905,327 896,326 C885,324 875,319 868,312 C862,318 855,327 847,340 Z" fill="#f3c844" stroke="#3b2a24" stroke-width="1.1"/>
<path d="M874,309 c10,-2 20,2 28,8 M880,306 c8,0 14,2 20,6" stroke="#c99a2a" stroke-width="0.9" fill="none"/>
<path d="M852,320 c2,-6 8,-10 14,-10" stroke="#f9e08a" stroke-width="2" fill="none"/>
<g stroke="#8a4a30" stroke-width="1.2" fill="#f8dcc4" fill-opacity="0.5">
 <ellipse cx="865" cy="334.5" rx="9" ry="6" transform="rotate(8 865 334.5)"/><ellipse cx="891" cy="338.5" rx="9.5" ry="6.3" transform="rotate(8 891 338.5)"/>
</g>
<path d="M874,336 l8,1 M856,333 l-8,-1 M900,340 l8,2" stroke="#8a4a30" stroke-width="1"/>
<g fill="#3b2a24"><circle cx="865.5" cy="334" r="1.6"/><circle cx="891" cy="339" r="1.6"/></g>
<path d="M877,343 c-3,0 -3,4 0,4" stroke="#3b2a24" stroke-width="0.9" fill="none"/>
<path d="M862,349 c4,12 28,14 32,2" stroke="#3b2a24" stroke-width="1.3" fill="none"/>
<g fill="#f4a09e"><circle cx="861.5" cy="346" r="3.8"/><circle cx="894" cy="350" r="3.8"/></g>
<!-- boy -->
<g stroke="#3b2a24" stroke-width="1.1">
 <path d="M935,448 l-14,12 M952,448 l12,6" stroke="#f8d2b0" stroke-width="3" fill="none"/>
 <ellipse cx="917" cy="462" rx="6.5" ry="4" fill="#e8a050"/>
 <ellipse cx="968" cy="455" rx="4" ry="6" fill="#e8a050" transform="rotate(-20 968 455)"/>
 <path d="M930,436 l28,0 l1,13 l-13,1 l-1,-4 l-2,4 l-14,-1 z" fill="#2e80c6"/>
 <path d="M929,419 l30,0 l8,6 l-4,5 l-4,-2 l0,8 l-29,0 l0,-8 l-4,2 l-3,-5 z" fill="#8ccdea"/>
 <path d="M915,410 l14,12 M963,427 l14,8" stroke="#f8d2b0" stroke-width="3" fill="none"/>
</g>
<path d="M932,426 l26,0 M932,431 l26,0" stroke="#5aa8d8" stroke-width="1"/>
<ellipse cx="946.5" cy="401" rx="21" ry="18" fill="url(#skin)" stroke="#3b2a24" stroke-width="1.2"/>
<path d="M925,397 c-2,-14 10,-24 24,-23 c12,1 22,8 26,20 c1,6 0,12 -3,14 c-2,-6 -4,-10 -6,-14 c-6,-2 -12,-4 -16,-6 c-6,4 -16,6 -25,9 z" fill="#f2923e" stroke="#3b2a24" stroke-width="1"/>
<path d="M934,375 l-3,-4 M944,373 l0,-5 M954,374 l3,-4" stroke="#f2923e" stroke-width="2"/>
<!-- girl 1 -->
<path d="M982,404 c-4,-16 8,-24 20,-24 c14,0 26,10 28,24 c2,8 4,14 4,20 c-6,2 -12,0 -16,-4 z" fill="#d8713a" stroke="#3b2a24" stroke-width="1"/>
<g stroke="#3b2a24" stroke-width="1.1">
 <path d="M993,450 l-12,10 M1010,450 l14,6" stroke="#f8d2b0" stroke-width="3" fill="none"/>
 <ellipse cx="978" cy="461" rx="6" ry="4" fill="#e8a050"/>
 <ellipse cx="1026" cy="458" rx="4" ry="6" fill="#e8a050" transform="rotate(-20 1026 458)"/>
 <path d="M989,425 l22,0 l13,28 c-14,5 -34,5 -48,0 z" fill="#f5c740"/>
 <path d="M975,430 l14,-1 M1011,429 l16,0" stroke="#f8d2b0" stroke-width="3" fill="none"/>
</g>
<path d="M977,452 c14,4 34,4 47,0" stroke="#e87a30" stroke-width="2" fill="none"/>
<rect x="996" y="427" width="7" height="6" fill="#fff" stroke="#3b2a24" stroke-width="0.6"/>
<ellipse cx="1001" cy="409" rx="20" ry="16.5" fill="url(#skin)" stroke="#3b2a24" stroke-width="1.2"/>
<path d="M981,405 c0,-14 10,-22 22,-21 c10,1 18,8 20,18 c-8,-3 -14,-7 -18,-12 c-6,6 -14,11 -24,15 z" fill="#d8713a" stroke="#3b2a24" stroke-width="1"/>
<!-- girl 2 -->
<g stroke="#3b2a24" stroke-width="1.1">
 <path d="M1052,452 l-8,14 M1066,450 l14,4" stroke="#f8d2b0" stroke-width="3" fill="none"/>
 <ellipse cx="1043" cy="469" rx="6.5" ry="4" fill="#e46a3a"/>
 <ellipse cx="1083" cy="453" rx="4" ry="6" fill="#e46a3a" transform="rotate(-30 1083 453)"/>
 <path d="M1046,429 l22,0 l12,24 c-14,4 -32,4 -44,0 z" fill="#4ab7c8"/>
 <path d="M1030,433 l16,0 M1068,432 l16,-8" stroke="#f8d2b0" stroke-width="3" fill="none"/>
</g>
<path d="M1036,452 c14,5 30,5 44,0" stroke="#2e9ab0" stroke-width="2" fill="none"/>
<ellipse cx="1055.5" cy="414.5" rx="20.5" ry="15.5" fill="url(#skin)" stroke="#3b2a24" stroke-width="1.2"/>
<path d="M1035,412 c0,-14 10,-22 22,-21 c10,1 18,8 20,16 c-8,-2 -16,-6 -20,-10 c-6,6 -12,11 -22,15 z" fill="#e08a42" stroke="#3b2a24" stroke-width="1"/>
<path d="M1074,408 c8,0 14,-2 20,-6" stroke="#e08a42" stroke-width="4.5" fill="none"/>
<path d="M1092,403 l4,-10 l4,6 z M1094,402 l8,2 l-4,6 z" fill="#f07a5a" stroke="#3b2a24" stroke-width="0.8"/>
<!-- faces -->
<g fill="#3b2a24"><circle cx="939" cy="398" r="1.5"/><circle cx="954" cy="398" r="1.5"/><circle cx="994" cy="405" r="1.5"/><circle cx="1008" cy="405" r="1.5"/><circle cx="1048" cy="411" r="1.5"/><circle cx="1062" cy="411" r="1.5"/></g>
<g stroke="#3b2a24" stroke-width="1.1" fill="none"><path d="M935,405 c4,8 18,8 22,0 M991,412 c4,7 16,7 20,0 M1046,418 c4,7 16,7 20,0"/></g>
<g fill="#f4a09e"><circle cx="931" cy="404" r="3.2"/><circle cx="961" cy="404" r="3.2"/><circle cx="987" cy="411" r="3"/><circle cx="1015" cy="411" r="3"/><circle cx="1041" cy="417" r="3"/><circle cx="1069" cy="417" r="3"/></g>
</svg>
<svg class="abs" style="left:0;top:0" width="1200" height="849" viewBox="0 0 1200 849"><defs>
<clipPath id="wallclip"><path d="M826,766 C830,710 900,636 975,636 C1090,636 1132,690 1132,766 Z"/></clipPath>
<linearGradient id="wallfade" x1="0" y1="636" x2="0" y2="766" gradientUnits="userSpaceOnUse"><stop offset="0" stop-color="#fffbe8" stop-opacity="0.55"/><stop offset="1" stop-color="#fffbe8" stop-opacity="0"/></linearGradient>
<pattern id="stripes" x="0" y="0" width="19" height="10" patternUnits="userSpaceOnUse"><rect width="19" height="10" fill="#fbe9a2"/><rect x="0" width="8" height="10" fill="#fdf5d2"/></pattern>
<linearGradient id="floor" x1="0" y1="766" x2="0" y2="812" gradientUnits="userSpaceOnUse"><stop offset="0" stop-color="#eca86e"/><stop offset="0.5" stop-color="#f1ba86"/><stop offset="1" stop-color="#eeb07a"/></linearGradient>
<linearGradient id="scr" x1="0" y1="0" x2="1" y2="1"><stop offset="0" stop-color="#d8ecf6"/><stop offset="1" stop-color="#bcdcee"/></linearGradient>
</defs>
<g clip-path="url(#wallclip)"><rect x="820" y="620" width="320" height="150" fill="url(#stripes)"/><rect x="820" y="620" width="320" height="150" fill="url(#wallfade)"/></g>
<path d="M826,766 L1132,766 C1130,790 1060,812 975,812 C890,812 830,792 826,766 Z" fill="url(#floor)"/>
<path d="M824,763 l310,0 l0,3.5 l-310,0 z" fill="#c8895a"/>
<path d="M880,790 l20,0 M920,797 l25,0 M1010,795 l30,0 M1060,786 l20,0" stroke="#c88a58" stroke-width="1"/>
<!-- window -->
<path d="M830,621 l84,0 l0,58 l-84,0 z" fill="#e6f3fa"/>
<path d="M832,623 l80,0 l0,54 l-80,0 z" fill="#dcecf6"/>
<path d="M850,650 l30,-20 M855,660 l40,-28 M845,640 l12,-8 M870,670 l36,-24" stroke="#7a8aa0" stroke-width="0.8"/>
<path d="M840,655 l50,-32 M860,672 l50,-34" stroke="#ffffff" stroke-width="3"/>
<path d="M911,620 l4,0 l0,60 l-4,0 z M830,675 l85,0 l0,4 l-85,0 z" fill="#f4f6f8" stroke="#8a96a6" stroke-width="0.8"/>
<!-- lamp -->
<path d="M893,684 l4,0 l0,18 l-4,0 z" fill="#e8ecf0" stroke="#3b2a24" stroke-width="0.8"/>
<ellipse cx="895" cy="703" rx="10" ry="3" fill="#dfe6ee" stroke="#3b2a24" stroke-width="0.8"/>
<path d="M884,651 l22,0 l12,33 l-46,0 z" fill="#bfe4dc" stroke="#3b2a24" stroke-width="1"/>
<path d="M890,653 l-6,30 M895,653 l-2,30 M900,653 l2,30 M905,653 l5,30" stroke="#8cc4ba" stroke-width="0.8"/>
<!-- plant -->
<path d="M866,697 l12,0 l-2,14 l-8,0 z" fill="#e06a3a" stroke="#3b2a24" stroke-width="0.8"/>
<g fill="#f4d8c8" stroke="#3b2a24" stroke-width="0.6"><circle cx="858" cy="692" r="2.5"/><circle cx="861" cy="698" r="2.5"/><circle cx="884" cy="693" r="2.5"/><circle cx="880" cy="699" r="2"/></g>
<!-- monitor -->
<rect x="922" y="642" width="96" height="56" rx="1.5" fill="#8e959e" stroke="#3b2a24" stroke-width="0.8"/>
<rect x="925" y="645" width="90" height="48" fill="url(#scr)"/>
<path d="M940,675 l25,-20 M950,680 l30,-24 M985,672 l20,-14" stroke="#7a8aa0" stroke-width="0.8"/>
<path d="M945,680 l40,-32" stroke="#ffffff" stroke-width="3"/>
<rect x="962" y="698" width="16" height="8" fill="#7e858e"/>
<rect x="952" y="706" width="36" height="3" fill="#9aa2ac"/>
<!-- cup on desk -->
<path d="M919,694 l12,0 l-1,15 l-10,0 z" fill="#efb24a" stroke="#3b2a24" stroke-width="0.8"/>
<!-- books on desk -->
<rect x="1018" y="704" width="50" height="7" fill="#e2724a" stroke="#3b2a24" stroke-width="0.7"/>
<rect x="1022" y="700" width="42" height="4" fill="#f0a050" stroke="#3b2a24" stroke-width="0.7"/>
<!-- desk -->
<rect x="888" y="710" width="184" height="4.5" fill="#eac591" stroke="#3b2a24" stroke-width="0.7"/>
<g stroke="#6f7a88" stroke-width="0.6" fill="#b9c3cf">
 <rect x="890.5" y="714.5" width="4.5" height="52"/><rect x="937" y="714.5" width="4" height="50"/><rect x="1026" y="714.5" width="4" height="50"/>
</g>
<g stroke="#7a8592" stroke-width="0.8" fill="none">
 <path d="M946,736 l0,26 M956,736 l0,26 M966,736 l0,26 M946,741 l30,0 M946,748 l30,0 M946,755 l30,0"/>
</g>
<rect x="896" y="751" width="140" height="3" fill="#e3b985" stroke="#3b2a24" stroke-width="0.5"/>
<path d="M897,738 c8,-6 16,4 24,-2 c6,-4 10,2 16,-2 M897,745 c10,-4 18,6 28,0 c5,-3 8,1 12,-1 M902,725 c2,-8 8,-6 10,-14" stroke="#3b2a24" stroke-width="0.9" fill="none"/>
<rect x="903" y="728" width="126" height="4" fill="#eac591" stroke="#3b2a24" stroke-width="0.6"/>
<rect x="924" y="721" width="76" height="6" rx="1" fill="#f2f4f6" stroke="#6f7a88" stroke-width="0.6"/>
<path d="M930,721 l0,6 M938,721 l0,6 M946,721 l0,6 M954,721 l0,6 M962,721 l0,6 M970,721 l0,6 M978,721 l0,6 M986,721 l0,6 M994,721 l0,6" stroke="#9aa4b0" stroke-width="0.5"/>
<ellipse cx="1013" cy="723.5" rx="6" ry="4" fill="#f2f4f6" stroke="#3b2a24" stroke-width="0.6"/>
<g fill="#dfe5ec" stroke="#6f7a88" stroke-width="0.6"><circle cx="893" cy="766" r="3.2"/><circle cx="893" cy="777" r="3"/><circle cx="939" cy="766" r="3"/></g>
<rect x="930" y="767" width="22" height="3" fill="#b9c3cf" stroke="#6f7a88" stroke-width="0.5"/>
<!-- side table -->
<rect x="1037" y="719" width="79" height="4" fill="#eac591" stroke="#3b2a24" stroke-width="0.7"/>
<path d="M1042,723 l0,52 M1110,723 l0,52" stroke="#a9b2bc" stroke-width="3"/>
<ellipse cx="1042" cy="778" rx="4" ry="3.5" fill="#c8d0d8" stroke="#3b2a24" stroke-width="0.6"/>
<ellipse cx="1110" cy="778" rx="4" ry="3.5" fill="#c8d0d8" stroke="#3b2a24" stroke-width="0.6"/>
<path d="M1082,703 l14,0 l-1,16 l-12,0 z" fill="#d83a34" stroke="#3b2a24" stroke-width="0.8"/>
<path d="M1085,703 l-3,-14 M1089,703 l1,-16 M1092,703 l4,-12" stroke="#e8b850" stroke-width="2"/>
<rect x="1096" y="709" width="16" height="10" fill="#f0c070" stroke="#3b2a24" stroke-width="0.7"/>
<!-- washing machine -->
<rect x="1057" y="727" width="29" height="14" rx="1.5" fill="#c6ccd6" stroke="#3b2a24" stroke-width="0.8"/>
<rect x="1052" y="741" width="39" height="41" fill="#eef0f4" stroke="#3b2a24" stroke-width="0.8"/>
<circle cx="1071" cy="763" r="14" fill="#8d94aa" stroke="#3b2a24" stroke-width="0.8"/>
<circle cx="1071" cy="763" r="5" fill="#c8ccd8" stroke="#3b2a24" stroke-width="0.6"/>
<!-- shelf -->
<path d="M1029,633 l0,25 M1107,633 l0,25" stroke="#e6b874" stroke-width="3"/>
<rect x="1028" y="655" width="80" height="5" fill="#eabd7e" stroke="#3b2a24" stroke-width="0.7"/>
<circle cx="1052" cy="643" r="9.5" fill="#f3cf58" stroke="#3b2a24" stroke-width="0.8"/>
<circle cx="1052" cy="643" r="7" fill="#fbf6e4"/>
<path d="M1052,643 l0,-5 M1052,643 l-3,2" stroke="#3b2a24" stroke-width="0.8"/>
<path d="M1069,655 l14,-14 l5,5 l-14,12 z" fill="#d8424e" stroke="#3b2a24" stroke-width="0.7"/>
<path d="M1086,655 l4,-18 l3,1 l-4,17 z" fill="#ffffff" stroke="#3b2a24" stroke-width="0.6"/>
<path d="M1093,655 l8,-24 l4,2 l-8,22 z" fill="#f3c66a" stroke="#3b2a24" stroke-width="0.6"/>
<!-- computer case & speaker -->
<rect x="854" y="719" width="33" height="59" fill="#d3d9e2" stroke="#3b2a24" stroke-width="0.8"/>
<path d="M859,727 l23,0 l0,22 c0,8 -23,8 -23,0 z" fill="#f4e8d2" stroke="#3b2a24" stroke-width="0.6"/>
<rect x="836" y="745" width="18" height="32" fill="#e4e8ee" stroke="#3b2a24" stroke-width="0.8"/>
<rect x="840" y="752" width="9" height="8" fill="#a8aeb8" stroke="#3b2a24" stroke-width="0.5"/>
<!-- chair -->
<path d="M984,748 l8,0 l0,58 l-8,0 z" fill="#9aa0aa" stroke="#3b2a24" stroke-width="0.7"/>
<path d="M972,809 l36,0 M976,809 l-4,3 M1004,809 l4,3" stroke="#8c939c" stroke-width="2.5"/>
<g fill="#e0e4ea" stroke="#3b2a24" stroke-width="0.6"><circle cx="968" cy="811" r="2.5"/><circle cx="1011" cy="811" r="2.5"/><circle cx="988" cy="810" r="2.5"/></g>
<path d="M956,733 c0,-8 61,-8 61,0 l-2,12 c-14,6 -44,6 -57,0 z" fill="#d8402a" stroke="#3b2a24" stroke-width="0.8"/>
<path d="M958,767 c0,-6 57,-6 57,0 l0,6 c-14,5 -43,5 -57,0 z" fill="#d8402a" stroke="#3b2a24" stroke-width="0.8"/>
<rect x="981" y="744" width="12" height="28" rx="5" fill="#9ca3ad" stroke="#3b2a24" stroke-width="0.7"/>
</svg>
<div class="cell dk" style="left:64.7px;top:575.5px;width:132.3px"></div>
<div class="cell wh" style="left:201px;top:575.5px;width:63px"></div>
<div class="cell wh" style="left:267px;top:575.5px;width:114px"></div>
<div class="cell dk" style="left:64.7px;top:656.6px;width:132.3px"></div>
<div class="cell wh" style="left:201px;top:656.6px;width:63px"></div>
<div class="cell wh" style="left:267px;top:656.6px;width:114px"></div>
<div class="cell dk" style="left:64.7px;top:737.7px;width:132.3px"></div>
<div class="cell wh" style="left:201px;top:737.7px;width:63px"></div>
<div class="cell wh" style="left:267px;top:737.7px;width:114px"></div>
<div class="cell dk" style="left:469px;top:717.3px;width:62.5px;height:34.5px"></div>
<div class="cell wh" style="left:469px;top:755.8px;width:62.5px;height:37.6px"></div>
<div class="cell dk" style="left:539.9px;top:717.3px;width:62.5px;height:34.5px"></div>
<div class="cell wh" style="left:539.9px;top:755.8px;width:62.5px;height:37.6px"></div>
<div class="cell dk" style="left:610.8px;top:717.3px;width:62.5px;height:34.5px"></div>
<div class="cell wh" style="left:610.8px;top:755.8px;width:62.5px;height:37.6px"></div>
<div class="cell dk" style="left:681.7px;top:717.3px;width:62.5px;height:34.5px"></div>
<div class="cell wh" style="left:681.7px;top:755.8px;width:62.5px;height:37.6px"></div><svg class="abs" style="left:0;top:0" width="1200" height="849" viewBox="0 0 1200 849"><defs></defs><circle cx="476.7" cy="677" r="8.6" fill="#0e5690"/><circle cx="476.7" cy="697.2" r="8.6" fill="#ffffff"/><circle cx="442" cy="773.6" r="19.5" fill="#a9bbe7" stroke="#f4f8ff" stroke-width="1.8"/><g stroke="#f4f8ff" stroke-width="1.1" fill="none"><path d="M442.00,755.60 L442.00,759.10"/><path d="M460.00,773.60 L456.50,773.60"/><path d="M442.00,791.60 L442.00,788.10"/><path d="M424.00,773.60 L427.50,773.60"/></g><g fill="#f4f8ff"><circle cx="450.00" cy="759.74" r="0.8"/><circle cx="455.86" cy="765.60" r="0.8"/><circle cx="455.86" cy="781.60" r="0.8"/><circle cx="450.00" cy="787.46" r="0.8"/><circle cx="434.00" cy="787.46" r="0.8"/><circle cx="428.14" cy="781.60" r="0.8"/><circle cx="428.14" cy="765.60" r="0.8"/><circle cx="434.00" cy="759.74" r="0.8"/></g><path d="M442,773.6 L450.6,784.6 M442,773.6 L442,756.6" stroke="#f4f8ff" stroke-width="1.2" stroke-linecap="round"/><circle cx="442" cy="773.6" r="1.8" fill="#f4f8ff"/></svg>
<div class=t style="left:118.0px;top:59.6px;font-size:22.5px;font-weight:400;color:#231f20;transform:scaleX(0.805)">РОСПОТРЕБНАДЗОР</div>
<div class=t style="left:118.0px;top:91.1px;font-size:12px;font-weight:400;color:#3b3b3b;transform:scaleX(0.786)">ЕДИНЫЙ КОНСУЛЬТАЦИОННЫЙ ЦЕНТР</div>
<div class=t style="left:118.0px;top:105.1px;font-size:12px;font-weight:400;color:#3b3b3b;transform:scaleX(0.770)">РОСПОТРЕБНАДЗОРА</div>
<div class=t style="left:227.7px;top:104.7px;font-size:12.5px;font-weight:400;color:#d42a3b;transform:scaleX(0.830)">8-800-555-49-43</div>
<div class=t style="left:573.0px;top:72.2px;font-size:35px;font-weight:700;color:#ffffff;transform:scaleX(0.748);-webkit-text-stroke:0.6px currentColor">РЕЖИМ ДНЯ ШКОЛЬНИКА</div>
<div class=t style="left:54.0px;top:176.6px;font-size:13.5px;font-weight:700;color:#1d1f22;transform:scaleX(0.804);-webkit-text-stroke:0.45px currentColor">РЕЖИМ ПИТАНИЯ</div>
<div class=t style="left:428.0px;top:176.6px;font-size:13.5px;font-weight:700;color:#1d1f22;transform:scaleX(0.779);-webkit-text-stroke:0.45px currentColor">ЗДОРОВЫЙ СОН</div>
<div class=t style="left:805.0px;top:176.6px;font-size:13.5px;font-weight:700;color:#1d1f22;transform:scaleX(0.802);-webkit-text-stroke:0.45px currentColor">ПРОГУЛКИ</div>
<div class=t style="left:805.0px;top:500.8px;font-size:13.5px;font-weight:700;color:#1d1f22;transform:scaleX(0.769);-webkit-text-stroke:0.45px currentColor">РАБОЧЕЕ МЕСТО</div>
<div class=t style="left:54.0px;top:211.0px;font-size:14.2px;font-weight:400;color:#2a2d31;transform:scaleX(0.822)">5 приемов пищи в сутки в зависимости от нагрузки,</div>
<div class=t style="left:54.0px;top:227.7px;font-size:14.2px;font-weight:400;color:#2a2d31;transform:scaleX(0.810)">через 4-5 часов.</div>
<div class=t style="left:428.5px;top:210.5px;font-size:14.2px;font-weight:400;color:#2a2d31;transform:scaleX(0.807)">У детей, недосыпающих 2–2,5 часа, уровень работоспособности</div>
<div class=t style="left:428.5px;top:227.5px;font-size:14.2px;font-weight:400;color:#2a2d31;transform:scaleX(0.808)">на уроках снижается на 30 %</div>
<div class=t style="left:428.5px;top:244.5px;font-size:14.2px;font-weight:400;color:#2a2d31;transform:scaleX(0.810)">•</div>
<div class=t style="left:449.0px;top:244.5px;font-size:14.2px;font-weight:400;color:#2a2d31;transform:scaleX(0.819)">Ложиться спать в одно и то же время.</div>
<div class=t style="left:428.5px;top:261.5px;font-size:14.2px;font-weight:400;color:#2a2d31;transform:scaleX(0.810)">•</div>
<div class=t style="left:449.0px;top:261.5px;font-size:14.2px;font-weight:400;color:#2a2d31;transform:scaleX(0.811)">Ограничивать после 19 часов эмоциональные нагрузки</div>
<div class=t style="left:428.5px;top:278.5px;font-size:14.2px;font-weight:400;color:#2a2d31;transform:scaleX(0.825)">(шумные игры, просмотр фильмов).</div>
<div class=t style="left:428.5px;top:295.5px;font-size:14.2px;font-weight:400;color:#2a2d31;transform:scaleX(0.810)">•</div>
<div class=t style="left:449.0px;top:295.5px;font-size:14.2px;font-weight:400;color:#2a2d31;transform:scaleX(0.818)">Сформировать собственные полезные привычки</div>
<div class=t style="left:428.5px;top:312.5px;font-size:14.2px;font-weight:400;color:#2a2d31;transform:scaleX(0.808)">(«ритуал»): вечерний душ или ванна, прогулка, чтение.</div>
<div class=t style="left:428.5px;top:329.5px;font-size:14.2px;font-weight:400;color:#2a2d31;transform:scaleX(0.810)">•</div>
<div class=t style="left:449.0px;top:329.5px;font-size:14.2px;font-weight:400;color:#2a2d31;transform:scaleX(0.816)">Кровать у ребёнка должна быть ровной, не провисающей, с</div>
<div class=t style="left:428.5px;top:346.5px;font-size:14.2px;font-weight:400;color:#2a2d31;transform:scaleX(0.823)">невысокой подушкой. Комнату нужно хорошо проветривать.</div>
<div class=t style="left:428.5px;top:363.5px;font-size:14.2px;font-weight:400;color:#2a2d31;transform:scaleX(0.812)">Первоклассникам рекомендуется организовывать дневной сон</div>
<div class=t style="left:428.5px;top:380.5px;font-size:14.2px;font-weight:400;color:#2a2d31;transform:scaleX(0.796)">продолжительностью до 2 часов.</div>
<div class=t style="left:428.5px;top:397.5px;font-size:14.2px;font-weight:400;color:#2a2d31;transform:scaleX(0.792)">+1 час сна минимум на время экзаменов, перед контрольными</div>
<div class=t style="left:428.5px;top:414.5px;font-size:14.2px;font-weight:400;color:#2a2d31;transform:scaleX(0.815)">работами и при всякой напряжённой умственной деятельности.</div>
<div class=t style="left:805.2px;top:209.8px;font-size:14.2px;font-weight:400;color:#2a2d31;transform:scaleX(0.831)">Продолжительность прогулок, подвижных игр и других видов</div>
<div class=t style="left:805.2px;top:226.7px;font-size:14.2px;font-weight:400;color:#2a2d31;transform:scaleX(0.810)">двигательной активности минимум 3–3,5 часа в младшем</div>
<div class=t style="left:805.2px;top:243.6px;font-size:14.2px;font-weight:400;color:#2a2d31;transform:scaleX(0.810)">возрасте и 2,5 часа у старшеклассников.</div>
<div class=t style="left:826.4px;top:535.0px;font-size:14.2px;font-weight:400;color:#2a2d31;transform:scaleX(0.810)">Контроль соответствия мебели росту ребёнка следует</div>
<div class=t style="left:805.2px;top:551.6px;font-size:14.2px;font-weight:400;color:#2a2d31;transform:scaleX(0.810)">проводить не реже 2 раз в год.</div>
<div class=t style="left:826.4px;top:568.2px;font-size:14.2px;font-weight:400;color:#2a2d31;transform:scaleX(0.810)">Следите за правильным положением тела ребенка</div>
<div class=t style="left:826.4px;top:584.8px;font-size:14.2px;font-weight:400;color:#2a2d31;transform:scaleX(0.810)">Освещение должно находится слева, яркий свет не должен</div>
<div class=t style="left:805.2px;top:601.4px;font-size:14.2px;font-weight:400;color:#2a2d31;transform:scaleX(0.810)">попадать в глаза</div>
<div class=t style="left:77.6px;top:525.5px;font-size:13.6px;font-weight:400;color:#2a2d31;transform:scaleX(0.833)">ПРИЕМ ПИЩИ</div>
<div class=t style="left:207.4px;top:525.5px;font-size:13.6px;font-weight:400;color:#2a2d31;transform:scaleX(0.778)">ВРЕМЯ</div>
<div class=t style="left:277.0px;top:525.5px;font-size:13.6px;font-weight:400;color:#2a2d31;transform:scaleX(0.801)">ЧАСТЬ ДНЕВНОГО</div>
<div class=t style="left:299.6px;top:541.5px;font-size:13.6px;font-weight:400;color:#2a2d31;transform:scaleX(0.803)">РАЦИОНА</div>
<div class=t style="left:77.5px;top:581.0px;font-size:16px;font-weight:700;color:#ffffff;transform:scaleX(0.820);-webkit-text-stroke:0.35px currentColor">Первый завтрак</div>
<div class=t style="left:212.3px;top:580.5px;font-size:16.5px;font-weight:700;color:#1ea2dd;transform:scaleX(0.850);-webkit-text-stroke:0.3px currentColor">7.00</div>
<div class=t style="left:311.6px;top:580.5px;font-size:16.5px;font-weight:700;color:#1ea2dd;transform:scaleX(0.870);-webkit-text-stroke:0.3px currentColor">20%</div>
<div class=t style="left:77.5px;top:622.3px;font-size:16px;font-weight:700;color:#0e5690;transform:scaleX(0.820);-webkit-text-stroke:0.35px currentColor">Второй завтрак</div>
<div class=t style="left:208.4px;top:621.8px;font-size:16.5px;font-weight:700;color:#1ea2dd;transform:scaleX(0.850);-webkit-text-stroke:0.3px currentColor">10.00</div>
<div class=t style="left:311.6px;top:621.8px;font-size:16.5px;font-weight:700;color:#1ea2dd;transform:scaleX(0.870);-webkit-text-stroke:0.3px currentColor">15%</div>
<div class=t style="left:77.5px;top:663.8px;font-size:16px;font-weight:700;color:#ffffff;transform:scaleX(0.820);-webkit-text-stroke:0.35px currentColor">Обед</div>
<div class=t style="left:208.4px;top:663.3px;font-size:16.5px;font-weight:700;color:#1ea2dd;transform:scaleX(0.850);-webkit-text-stroke:0.3px currentColor">13.00</div>
<div class=t style="left:311.6px;top:663.3px;font-size:16.5px;font-weight:700;color:#1ea2dd;transform:scaleX(0.870);-webkit-text-stroke:0.3px currentColor">40%</div>
<div class=t style="left:77.5px;top:704.3px;font-size:16px;font-weight:700;color:#0e5690;transform:scaleX(0.820);-webkit-text-stroke:0.35px currentColor">Полдник</div>
<div class=t style="left:208.4px;top:703.8px;font-size:16.5px;font-weight:700;color:#1ea2dd;transform:scaleX(0.850);-webkit-text-stroke:0.3px currentColor">16.00</div>
<div class=t style="left:311.6px;top:703.8px;font-size:16.5px;font-weight:700;color:#1ea2dd;transform:scaleX(0.870);-webkit-text-stroke:0.3px currentColor">10%</div>
<div class=t style="left:77.5px;top:745.7px;font-size:16px;font-weight:700;color:#ffffff;transform:scaleX(0.820);-webkit-text-stroke:0.35px currentColor">Ужин</div>
<div class=t style="left:208.4px;top:745.2px;font-size:16.5px;font-weight:700;color:#1ea2dd;transform:scaleX(0.850);-webkit-text-stroke:0.3px currentColor">19.30</div>
<div class=t style="left:311.6px;top:745.2px;font-size:16.5px;font-weight:700;color:#1ea2dd;transform:scaleX(0.870);-webkit-text-stroke:0.3px currentColor">15%</div>
<div class=t style="left:64.7px;top:792.3px;font-size:11.5px;font-weight:400;color:#2a2d31;transform:scaleX(0.851)">Подробнее на www.rospotrebnadzor.ru</div>
<div class=t style="left:429.8px;top:639.9px;font-size:13.8px;font-weight:400;color:#2a2d31;transform:scaleX(0.808)">ПРИМЕРНЫЕ НОРМЫ НОЧНОГО СНА ДЛЯ ШКОЛЬНИКОВ</div>
<div class=t style="left:499.0px;top:668.3px;font-size:16px;font-weight:400;color:#2a2d31;transform:scaleX(0.820)">класс</div>
<div class=t style="left:499.0px;top:688.0px;font-size:16px;font-weight:400;color:#2a2d31;transform:scaleX(0.859)">время (часы)</div>
<div class=t style="left:489.9px;top:727.1px;font-size:17px;font-weight:700;color:#ffffff;transform:scaleX(0.840);-webkit-text-stroke:0.3px currentColor">1-4</div>
<div class=t style="left:471.0px;top:762.1px;font-size:20.5px;font-weight:700;color:#1ea2dd;transform:scaleX(0.840);-webkit-text-stroke:0.35px currentColor">10-10,5</div>
<div class=t style="left:560.8px;top:727.1px;font-size:17px;font-weight:700;color:#ffffff;transform:scaleX(0.840);-webkit-text-stroke:0.3px currentColor">5-7</div>
<div class=t style="left:554.3px;top:762.1px;font-size:20.5px;font-weight:700;color:#1ea2dd;transform:scaleX(0.840);-webkit-text-stroke:0.35px currentColor">10,5</div>
<div class=t style="left:631.7px;top:727.1px;font-size:17px;font-weight:700;color:#ffffff;transform:scaleX(0.840);-webkit-text-stroke:0.3px currentColor">8-9</div>
<div class=t style="left:622.4px;top:762.1px;font-size:20.5px;font-weight:700;color:#1ea2dd;transform:scaleX(0.840);-webkit-text-stroke:0.35px currentColor">9-9,5</div>
<div class=t style="left:695.0px;top:727.1px;font-size:17px;font-weight:700;color:#ffffff;transform:scaleX(0.840);-webkit-text-stroke:0.3px currentColor">10-11</div>
<div class=t style="left:700.5px;top:762.1px;font-size:20.5px;font-weight:700;color:#1ea2dd;transform:scaleX(0.840);-webkit-text-stroke:0.35px currentColor">8-9</div>
<div class=t style="left:865.5px;top:279.5px;font-size:19px;font-weight:700;color:#1ea2dd;transform:scaleX(0.851);-webkit-text-stroke:0.4px currentColor">3 часа/день</div>
<div class=t style="left:804.8px;top:539.3px;font-family:'DejaVu Sans',sans-serif;font-size:6.8px;color:#1f2226">▪</div>
<div class=t style="left:804.8px;top:572.5px;font-family:'DejaVu Sans',sans-serif;font-size:6.8px;color:#1f2226">▪</div>
<div class=t style="left:804.8px;top:589.1px;font-family:'DejaVu Sans',sans-serif;font-size:6.8px;color:#1f2226">▪</div>
</body></html>
